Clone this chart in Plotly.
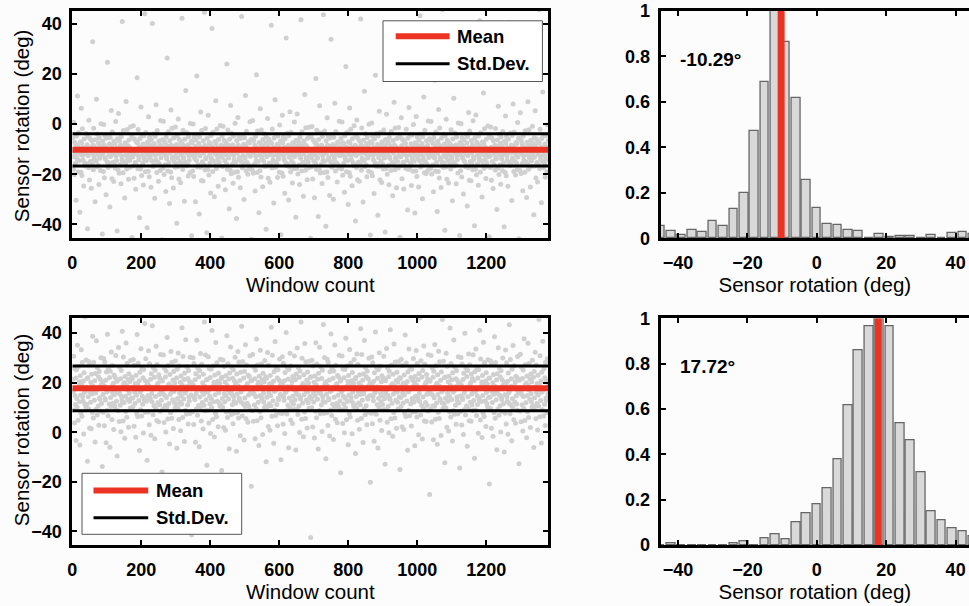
import plotly.graph_objects as go

# ---------------- data ----------------
N_WINDOWS = 1380
bin_centers = [-45, -42, -39, -36, -33, -30, -27, -24, -21, -18, -15, -12, -9, -6, -3,
               0, 3, 6, 9, 12, 15, 18, 21, 24, 27, 30, 33, 36, 39, 42, 45]
# normalised histogram heights (max = 1)
top_hist = [0.055, 0.034, 0.015, 0.037, 0.027, 0.077, 0.056, 0.128, 0.200, 0.470, 0.687,
            1.000, 0.864, 0.617, 0.258, 0.133, 0.064, 0.059, 0.037, 0.030, 0.0, 0.019,
            0.007, 0.010, 0.010, 0.0, 0.013, 0.0, 0.022, 0.027, 0.020]
bottom_hist = [0.0, 0.008, 0.0, 0.0, 0.0, 0.0, 0.0, 0.008, 0.015, 0.0, 0.030,
               0.047, 0.025, 0.100, 0.138, 0.178, 0.252, 0.378, 0.617, 0.858, 0.965, 1.000,
               0.965, 0.535, 0.462, 0.322, 0.150, 0.110, 0.072, 0.060, 0.040]
top_mean, top_std = -10.29, 6.4
bottom_mean, bottom_std = 17.72, 9.0
top_label = "-10.29°"
bottom_label = "17.72°"
win_ticks = [0, 200, 400, 600, 800, 1000, 1200]
rot_ticks = [-40, -20, 0, 20, 40]
hist_x_ticks = [-40, -20, 0, 20, 40]
hist_y_ticks = [0, 0.2, 0.4, 0.6, 0.8, 1]
BIN_W = 3.0


# ------------- expand histogram counts into per-window samples -------------
def radical_inverse(i, base):
    f, r = 1.0, 0.0
    while i > 0:
        f /= base
        r += f * (i % base)
        i //= base
    return r


def expand(hist):
    s = sum(hist)
    counts = [int(round(h * N_WINDOWS / s)) for h in hist]
    counts[hist.index(max(hist))] += N_WINDOWS - sum(counts)
    vals = []
    j = 0
    for c, n in zip(bin_centers, counts):
        for _ in range(n):
            vals.append(c - BIN_W / 2 + BIN_W * radical_inverse(j + 1, 3))
            j += 1
    keys = [radical_inverse(k + 1, 2) for k in range(len(vals))]
    order = sorted(range(len(vals)), key=lambda k: keys[k])
    xs = [0] * len(vals)
    for rank, k in enumerate(order):
        xs[k] = rank + 1
    return xs, vals


W, H = 969, 606
FONT = "Liberation Sans, Arial, Helvetica, sans-serif"
RED = "#ec3323"
PT = "#d0d0d0"


def px(x):
    return x / W


def py(y):
    return 1 - y / H


# panel geometry (pixels)
LX0, LX1 = 72.3, 548.3
RX0 = 660.7
TY0, TY1 = 11, 238.3
BY0, BY1 = 318.3, 545

fig = go.Figure()

panels = [
    ("x", "y", top_hist, top_mean, top_std),
    ("x3", "y3", bottom_hist, bottom_mean, bottom_std),
]
for xa, ya, hist, mean, std in panels:
    xs, ys = expand(hist)
    fig.add_trace(go.Scatter(x=xs, y=ys, mode="markers", xaxis=xa, yaxis=ya,
                             marker=dict(size=5, color=PT), showlegend=False,
                             hoverinfo="skip"))
    for yv in (mean + std, mean - std):
        fig.add_trace(go.Scatter(x=[0, N_WINDOWS], y=[yv, yv], mode="lines", xaxis=xa,
                                 yaxis=ya, line=dict(color="black", width=3),
                                 showlegend=False))
    fig.add_trace(go.Scatter(x=[0, N_WINDOWS], y=[mean, mean], mode="lines", xaxis=xa,
                             yaxis=ya, line=dict(color=RED, width=6), showlegend=False))

hpanels = [("x2", "y2", top_hist, top_mean), ("x4", "y4", bottom_hist, bottom_mean)]
for xa, ya, hist, mean in hpanels:
    fig.add_trace(go.Bar(x=bin_centers, y=hist, xaxis=xa, yaxis=ya, width=2.5,
                         marker=dict(color="#d9d9d9", line=dict(color="#666666", width=1.3)),
                         showlegend=False))
    fig.add_trace(go.Scatter(x=[mean, mean], y=[0, 1], mode="lines", xaxis=xa, yaxis=ya,
                             line=dict(color=RED, width=7), showlegend=False))

tickfont = dict(family=FONT, size=18, color="black", weight="bold")
titlefont = dict(family=FONT, size=20.5, color="black")

common = dict(showgrid=False, zeroline=False, showline=True, linecolor="black",
              linewidth=3, ticks="inside", ticklen=5, tickwidth=2, tickcolor="black",
              tickfont=tickfont, automargin=False)

fig.update_layout(
    width=W, height=H, margin=dict(l=0, r=0, t=0, b=0, autoexpand=False),
    paper_bgcolor="#fcfcfc", plot_bgcolor="#fcfcfc",
    bargap=0, showlegend=False,
    xaxis=dict(domain=[px(LX0), px(LX1)], anchor="y", range=[0, N_WINDOWS],
               tickvals=win_ticks, mirror="ticks", ticklabelstandoff=6,
               title=dict(text="Window count", font=titlefont, standoff=3), **common),
    yaxis=dict(domain=[py(TY1), py(TY0)], anchor="x", range=[-45.5, 45],
               tickvals=rot_ticks, mirror="ticks", ticklabelstandoff=4, **common),
    xaxis3=dict(domain=[px(LX0), px(LX1)], anchor="y3", range=[0, N_WINDOWS],
                tickvals=win_ticks, mirror="ticks", ticklabelstandoff=6,
                title=dict(text="Window count", font=titlefont, standoff=3), **common),
    yaxis3=dict(domain=[py(BY1), py(BY0)], anchor="x3", range=[-45.5, 46],
                tickvals=rot_ticks, mirror="ticks", ticklabelstandoff=4, **common),
    xaxis2=dict(domain=[px(RX0), 1.0], anchor="y2", range=[-45, 43.85],
                tickvals=hist_x_ticks, mirror="ticks", ticklabelstandoff=6,
                title=dict(text="Sensor rotation (deg)", font=titlefont, standoff=3), **common),
    yaxis2=dict(domain=[py(TY1), py(TY0)], anchor="x2", range=[0, 1],
                tickvals=hist_y_ticks, ticklabelstandoff=4, **common),
    xaxis4=dict(domain=[px(RX0), 1.0], anchor="y4", range=[-45, 43.85],
                tickvals=hist_x_ticks, mirror="ticks", ticklabelstandoff=6,
                title=dict(text="Sensor rotation (deg)", font=titlefont, standoff=3), **common),
    yaxis4=dict(domain=[py(BY1), py(BY0)], anchor="x4", range=[0, 1],
                tickvals=hist_y_ticks, ticklabelstandoff=4, **common),
)

# y-axis titles of the scatter panels
for yc in ((TY0 + TY1) / 2 + 1, (BY0 + BY1) / 2 - 2):
    fig.add_annotation(x=px(21.5), y=py(yc), xref="paper", yref="paper",
                       text="Sensor rotation (deg)", textangle=-90, showarrow=False,
                       xanchor="center", yanchor="middle", font=titlefont)

# mean value annotations in the histograms
annfont = dict(family=FONT, size=19, color="black", weight="bold")
fig.add_annotation(x=px(678), y=py(60), xref="paper", yref="paper", text=top_label,
                   showarrow=False, xanchor="left", yanchor="middle", font=annfont)
fig.add_annotation(x=px(678), y=py(367), xref="paper", yref="paper", text=bottom_label,
                   showarrow=False, xanchor="left", yanchor="middle", font=annfont)

# custom legends (box, line samples, labels)
legfont = dict(family=FONT, size=18.5, color="black", weight="bold")


def legend(bx0, by0, bx1, by1, lx0, lx1, y_mean, y_std, tx):
    fig.add_shape(type="rect", xref="paper", yref="paper", x0=px(bx0), x1=px(bx1),
                  y0=py(by1), y1=py(by0), fillcolor="white",
                  line=dict(color="#555555", width=1))
    fig.add_shape(type="line", xref="paper", yref="paper", x0=px(lx0), x1=px(lx1),
                  y0=py(y_mean), y1=py(y_mean), line=dict(color=RED, width=6))
    fig.add_shape(type="line", xref="paper", yref="paper", x0=px(lx0), x1=px(lx1),
                  y0=py(y_std), y1=py(y_std), line=dict(color="black", width=3))
    fig.add_annotation(x=px(tx), y=py(y_mean), xref="paper", yref="paper", text="Mean",
                       showarrow=False, xanchor="left", yanchor="middle", font=legfont)
    fig.add_annotation(x=px(tx), y=py(y_std), xref="paper", yref="paper", text="Std.Dev.",
                       showarrow=False, xanchor="left", yanchor="middle", font=legfont)


legend(383, 20.8, 542.4, 81.5, 395.7, 449.6, 36.2, 63.8, 455)
legend(82, 473.3, 241.7, 534.3, 93.5, 148.2, 490.4, 517.8, 153.5)

fig.write_html("out.html")
